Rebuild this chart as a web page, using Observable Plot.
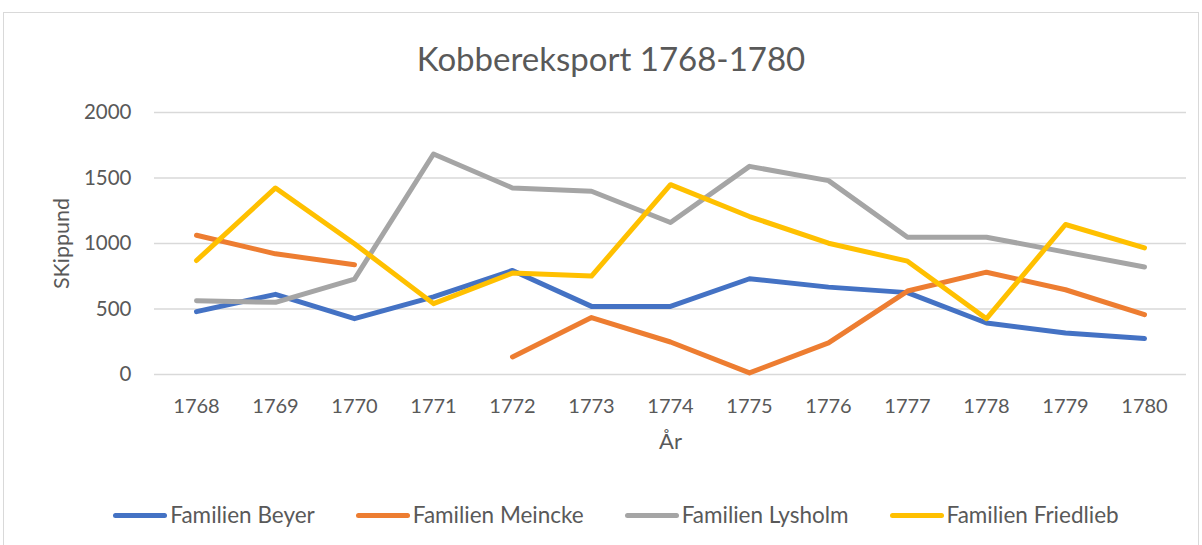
<!DOCTYPE html>
<html>
<head>
<meta charset="utf-8">
<script src="https://cdn.jsdelivr.net/npm/d3@7"></script>
<script src="https://cdn.jsdelivr.net/npm/@observablehq/plot@0.6"></script>
<style>
  html, body { margin: 0; padding: 0; background: #fff; }
  body { width: 1202px; height: 545px; overflow: hidden; position: relative; font-family: Lato, "Open Sans", sans-serif; color: #595959; }
  #frame { position: absolute; left: 3px; top: 12px; width: 1196px; height: 560px; border: 1px solid #d9d9d9; box-sizing: border-box; }
  #title { position: absolute; left: 0; top: 37px; width: 1222px; text-align: center; font-size: 33px; line-height: 42px; color: #595959; }
  #chart { position: absolute; left: 0; top: 90px; }
  #legend { position: absolute; left: 0; top: 502px; width: 1232px; display: flex; justify-content: center; gap: 41px; font-size: 22.5px; line-height: 26px; color: #595959; }
  .item { display: flex; align-items: center; gap: 3px; }
  .swatch { width: 54px; height: 5px; border-radius: 3px; }
</style>
</head>
<body>
<div id="frame"></div>
<div id="title">Kobbereksport 1768-1780</div>
<div id="chart"></div>
<div id="legend"></div>
<script>
const years = [1768, 1769, 1770, 1771, 1772, 1773, 1774, 1775, 1776, 1777, 1778, 1779, 1780];
const seriesNames = ["Familien Beyer", "Familien Meincke", "Familien Lysholm", "Familien Friedlieb"];
const seriesColors = ["#4472C4", "#ED7D31", "#A5A5A5", "#FFC000"];
const beyer     = [480, 612, 426, 592, 794, 520, 520, 731, 667, 625, 393, 317, 274];
const meincke   = [1063, 921, 838, null, 134, 435, 248, 12, 241, 637, 781, 647, 457];
const lysholm   = [563, 551, 728, 1683, 1424, 1399, 1160, 1589, 1480, 1048, 1048, 934, 820];
const friedlieb = [870, 1424, 998, 541, 774, 751, 1449, 1206, 1002, 865, 426, 1145, 967];
const yTicks = [0, 500, 1000, 1500, 2000];

const seriesValues = [beyer, meincke, lysholm, friedlieb];
const rows = seriesNames.flatMap((name, i) =>
  years.map((yr, j) => ({series: name, year: yr, value: seriesValues[i][j]}))
);

const chart = Plot.plot({
  width: 1202,
  height: 370,
  marginLeft: 154,
  marginRight: 16,
  marginTop: 22,
  marginBottom: 86,
  style: {fontFamily: "Lato, 'Open Sans', sans-serif", fontSize: "20px", color: "#595959", background: "transparent"},
  x: {type: "point", domain: years, padding: 0.5, label: null},
  y: {domain: [0, 2000], ticks: yTicks, label: null},
  color: {domain: seriesNames, range: seriesColors},
  marks: [
    Plot.gridY(yTicks, {stroke: "#d9d9d9", strokeOpacity: 1, strokeWidth: 1.3}),
    Plot.axisY(yTicks, {tickSize: 0, tickPadding: 23, fontSize: 20.5, fill: "#595959", tickFormat: d => String(d), label: null}),
    Plot.axisX(years, {tickSize: 0, tickPadding: 24, fontSize: 20, fill: "#595959", tickFormat: d => String(d), label: null}),
    Plot.text(["År"], {frameAnchor: "bottom", dy: 74, fontSize: 22, fill: "#595959"}),
    Plot.text(["SKippund"], {frameAnchor: "left", textAnchor: "middle", dx: -92, rotate: -90, fontSize: 21.5, fill: "#595959"}),
    Plot.line(rows, {x: "year", y: "value", z: "series", stroke: "series", strokeWidth: 5, strokeLinecap: "round", strokeLinejoin: "round", curve: "linear"})
  ]
});
document.getElementById("chart").appendChild(chart);

const legend = document.getElementById("legend");
seriesNames.forEach((name, i) => {
  const item = document.createElement("div");
  item.className = "item";
  const sw = document.createElement("div");
  sw.className = "swatch";
  sw.style.background = seriesColors[i];
  const label = document.createElement("span");
  label.textContent = name;
  item.appendChild(sw);
  item.appendChild(label);
  legend.appendChild(item);
});
</script>
</body>
</html>
